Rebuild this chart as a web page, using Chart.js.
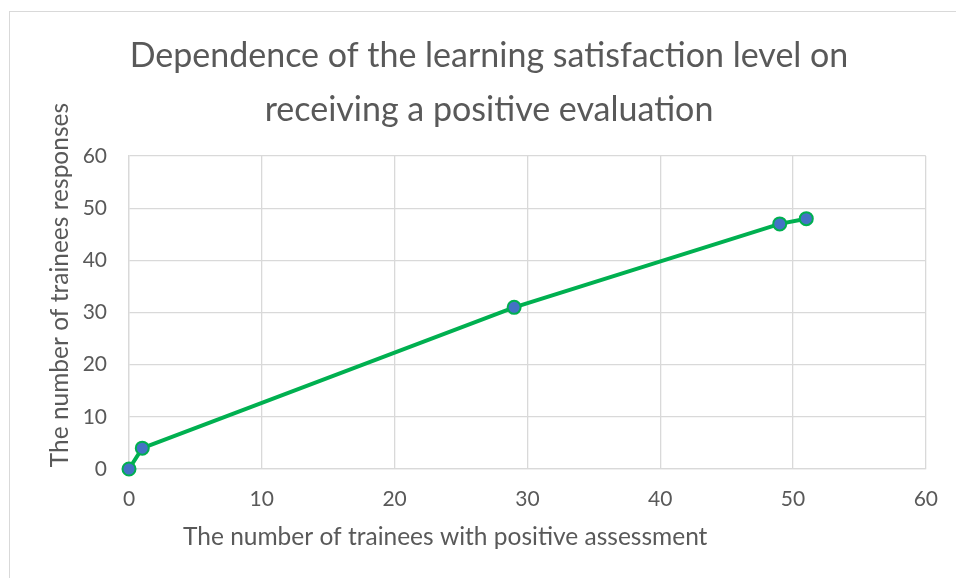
<!DOCTYPE html>
<html>
<head>
<meta charset="utf-8">
<script src="https://cdn.jsdelivr.net/npm/chart.js@4/dist/chart.umd.min.js"></script>
<style>
  html, body { margin: 0; padding: 0; background: #fff; overflow: hidden; }
  #wrap { position: relative; width: 956px; height: 578px; }
  #frame { position: absolute; left: 9px; top: 11px; width: 1000px; height: 600px; border: 1px solid #d9d9d9; }
  #chart { position: absolute; left: 0; top: 0; }
</style>
</head>
<body>
<div id="wrap">
  <div id="frame"></div>
  <canvas id="chart" width="956" height="578"></canvas>
</div>
<script>
"use strict";
// chart data
var positiveTrainees = [0, 1, 29, 49, 51];
var trainResponses = [0, 4, 31, 47, 48];
var xTicks = [0, 10, 20, 30, 40, 50, 60];
var yTicks = [0, 10, 20, 30, 40, 50, 60];

var titleLines = ["Dependence of the learning satisfaction level on", "receiving a positive evaluation"];
var xTitle = "The number of trainees with positive assessment";
var yTitle = "The number of trainees responses";

var textGray = "#595959";
var gridGray = "#d9d9d9";
var lineGreen = "#00b050";
var dotBlue = "#4472c4";

Chart.defaults.font.family = "Lato";
Chart.defaults.color = textGray;

// axis titles drawn by hand so they sit where Excel put them
var axisTitles = {
    id: "axisTitles",
    afterDraw: function (chart) {
        var ctx = chart.ctx;
        var area = chart.chartArea;
        ctx.save();
        ctx.fillStyle = textGray;
        ctx.font = "24.5px Lato";
        ctx.textBaseline = "alphabetic";
        ctx.textAlign = "left";
        ctx.fillText(xTitle, area.left + 54, area.bottom + 76);
        ctx.translate(68, area.top + 129);
        ctx.rotate(-Math.PI / 2);
        ctx.textAlign = "center";
        ctx.fillText(yTitle, 0, 0);
        ctx.restore();
    }
};

var points = positiveTrainees.map(function (x, i) {
    return { x: x, y: trainResponses[i] };
});

var CHART = document.getElementById("chart");
var myChart = new Chart(CHART, {
    type: "scatter",
    plugins: [axisTitles],
    data: {
        datasets: [
        {
            label: "Responses",
            data: points,
            showLine: true,
            clip: false,
            tension: 0,
            borderColor: lineGreen,
            borderWidth: 4,
            pointRadius: 6.5,
            pointBorderWidth: 2,
            pointBackgroundColor: dotBlue,
            pointBorderColor: lineGreen,
            pointHoverRadius: 6.5,
        }
        ],
    },
    options: {
        responsive: false,
        animation: false,
        layout: {
            padding: { left: 22, right: 0, top: 0, bottom: 0 },
        },
        plugins: {
            legend: { display: false },
            tooltip: { enabled: false },
            title: {
                display: true,
                text: titleLines,
                color: textGray,
                font: { size: 34, weight: "normal", lineHeight: 1.56 },
                padding: { top: 30, bottom: 20 },
            },
        },
        scales: {
            x: {
                type: "linear",
                min: xTicks[0],
                max: xTicks[xTicks.length - 1],
                afterBuildTicks: function (scale) {
                    scale.ticks = xTicks.map(function (v) { return { value: v }; });
                },
                afterFit: function (scale) { scale.height = 109; },
                grid: { color: gridGray, lineWidth: 1.3, drawTicks: false },
                border: { color: gridGray, width: 1.3 },
                ticks: { font: { size: 21 }, color: textGray, padding: 18, maxRotation: 0 },
            },
            y: {
                type: "linear",
                min: yTicks[0],
                max: yTicks[yTicks.length - 1],
                afterBuildTicks: function (scale) {
                    scale.ticks = yTicks.map(function (v) { return { value: v }; });
                },
                afterFit: function (scale) { scale.width = 107; },
                grid: { color: gridGray, lineWidth: 1.3, drawTicks: false },
                border: { color: gridGray, width: 1.3 },
                ticks: { font: { size: 21 }, color: textGray, padding: 22 },
            },
            spacer: {
                type: "linear",
                position: "right",
                afterFit: function (scale) { scale.width = 28; },
                grid: { display: false },
                border: { display: false },
                ticks: { display: false },
            },
        },
    },
});
</script>
</body>
</html>
